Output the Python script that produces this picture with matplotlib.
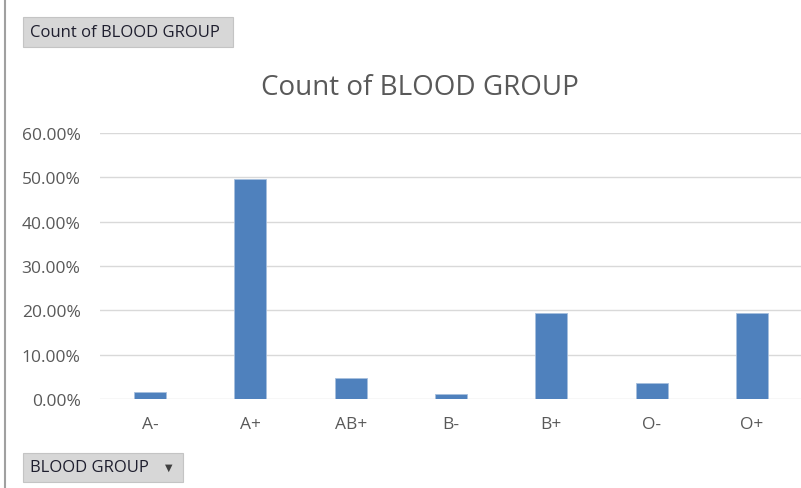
import matplotlib
matplotlib.use("Agg")
import matplotlib.pyplot as plt
from matplotlib.ticker import FuncFormatter
from matplotlib.lines import Line2D
from matplotlib.patches import Rectangle

# Data (share of records per blood group)
groups = ['A-', 'A+', 'AB+', 'B-', 'B+', 'O-', 'O+']
shares = [0.016, 0.496, 0.048, 0.012, 0.194, 0.036, 0.194]
yticks = [0.0, 0.1, 0.2, 0.3, 0.4, 0.5, 0.6]

plt.rcParams['font.family'] = ['Open Sans', 'DejaVu Sans']
txt = '#595959'
W, H = 801, 489

fig = plt.figure(figsize=(W / 100, H / 100), dpi=100)
ax = fig.add_axes([100 / W, 1 - 400 / H, 702 / W, 266 / H])

x = range(len(groups))
ax.bar(x, shares, width=0.32, color='#4f81bd', edgecolor='#a7bfde',
       linewidth=0.6, zorder=3)

ax.set_xlim(-0.5, len(groups) - 0.5)
ax.set_ylim(0, 0.6)
ax.set_yticks(yticks)
ax.yaxis.set_major_formatter(FuncFormatter(lambda v, p: '%.2f%%' % (v * 100)))
ax.set_xticks(list(x))
ax.set_xticklabels(groups)
ax.grid(axis='y', color='#d9d9d9', linewidth=1, zorder=0)
for s in ax.spines.values():
    s.set_visible(False)
ax.tick_params(length=0, colors=txt, labelsize=12.5)
ax.tick_params(axis='y', pad=14)
ax.tick_params(axis='x', pad=12)

fig.text(420 / W, 1 - 88 / H, 'Count of BLOOD GROUP', ha='center', va='center',
         fontsize=20, color=txt)


def button(x0, y0, x1, y1, label):
    # pivot-chart field button, pixel coords from top-left
    fig.add_artist(Rectangle((x0 / W, 1 - y1 / H), (x1 - x0) / W, (y1 - y0) / H,
                             transform=fig.transFigure, fc='#d7d7d7',
                             ec='#c4c4c4', lw=0.8))
    fig.text((x0 + 7) / W, 1 - (y0 + y1) / 2 / H, label, ha='left',
             va='center', fontsize=12, color='#1e1e2e')


button(23, 18, 233, 48, 'Count of BLOOD GROUP')
button(23, 454, 183, 483, 'BLOOD GROUP')
fig.text(169 / W, 1 - 468.5 / H, '\u25bc', ha='center', va='center',
         fontsize=7, color='#404040')

# left border of the worksheet area
fig.add_artist(Line2D([5 / W, 5 / W], [0, 1], color='#a0a0a0', lw=1.5))

fig.savefig('out.png', dpi=100)
